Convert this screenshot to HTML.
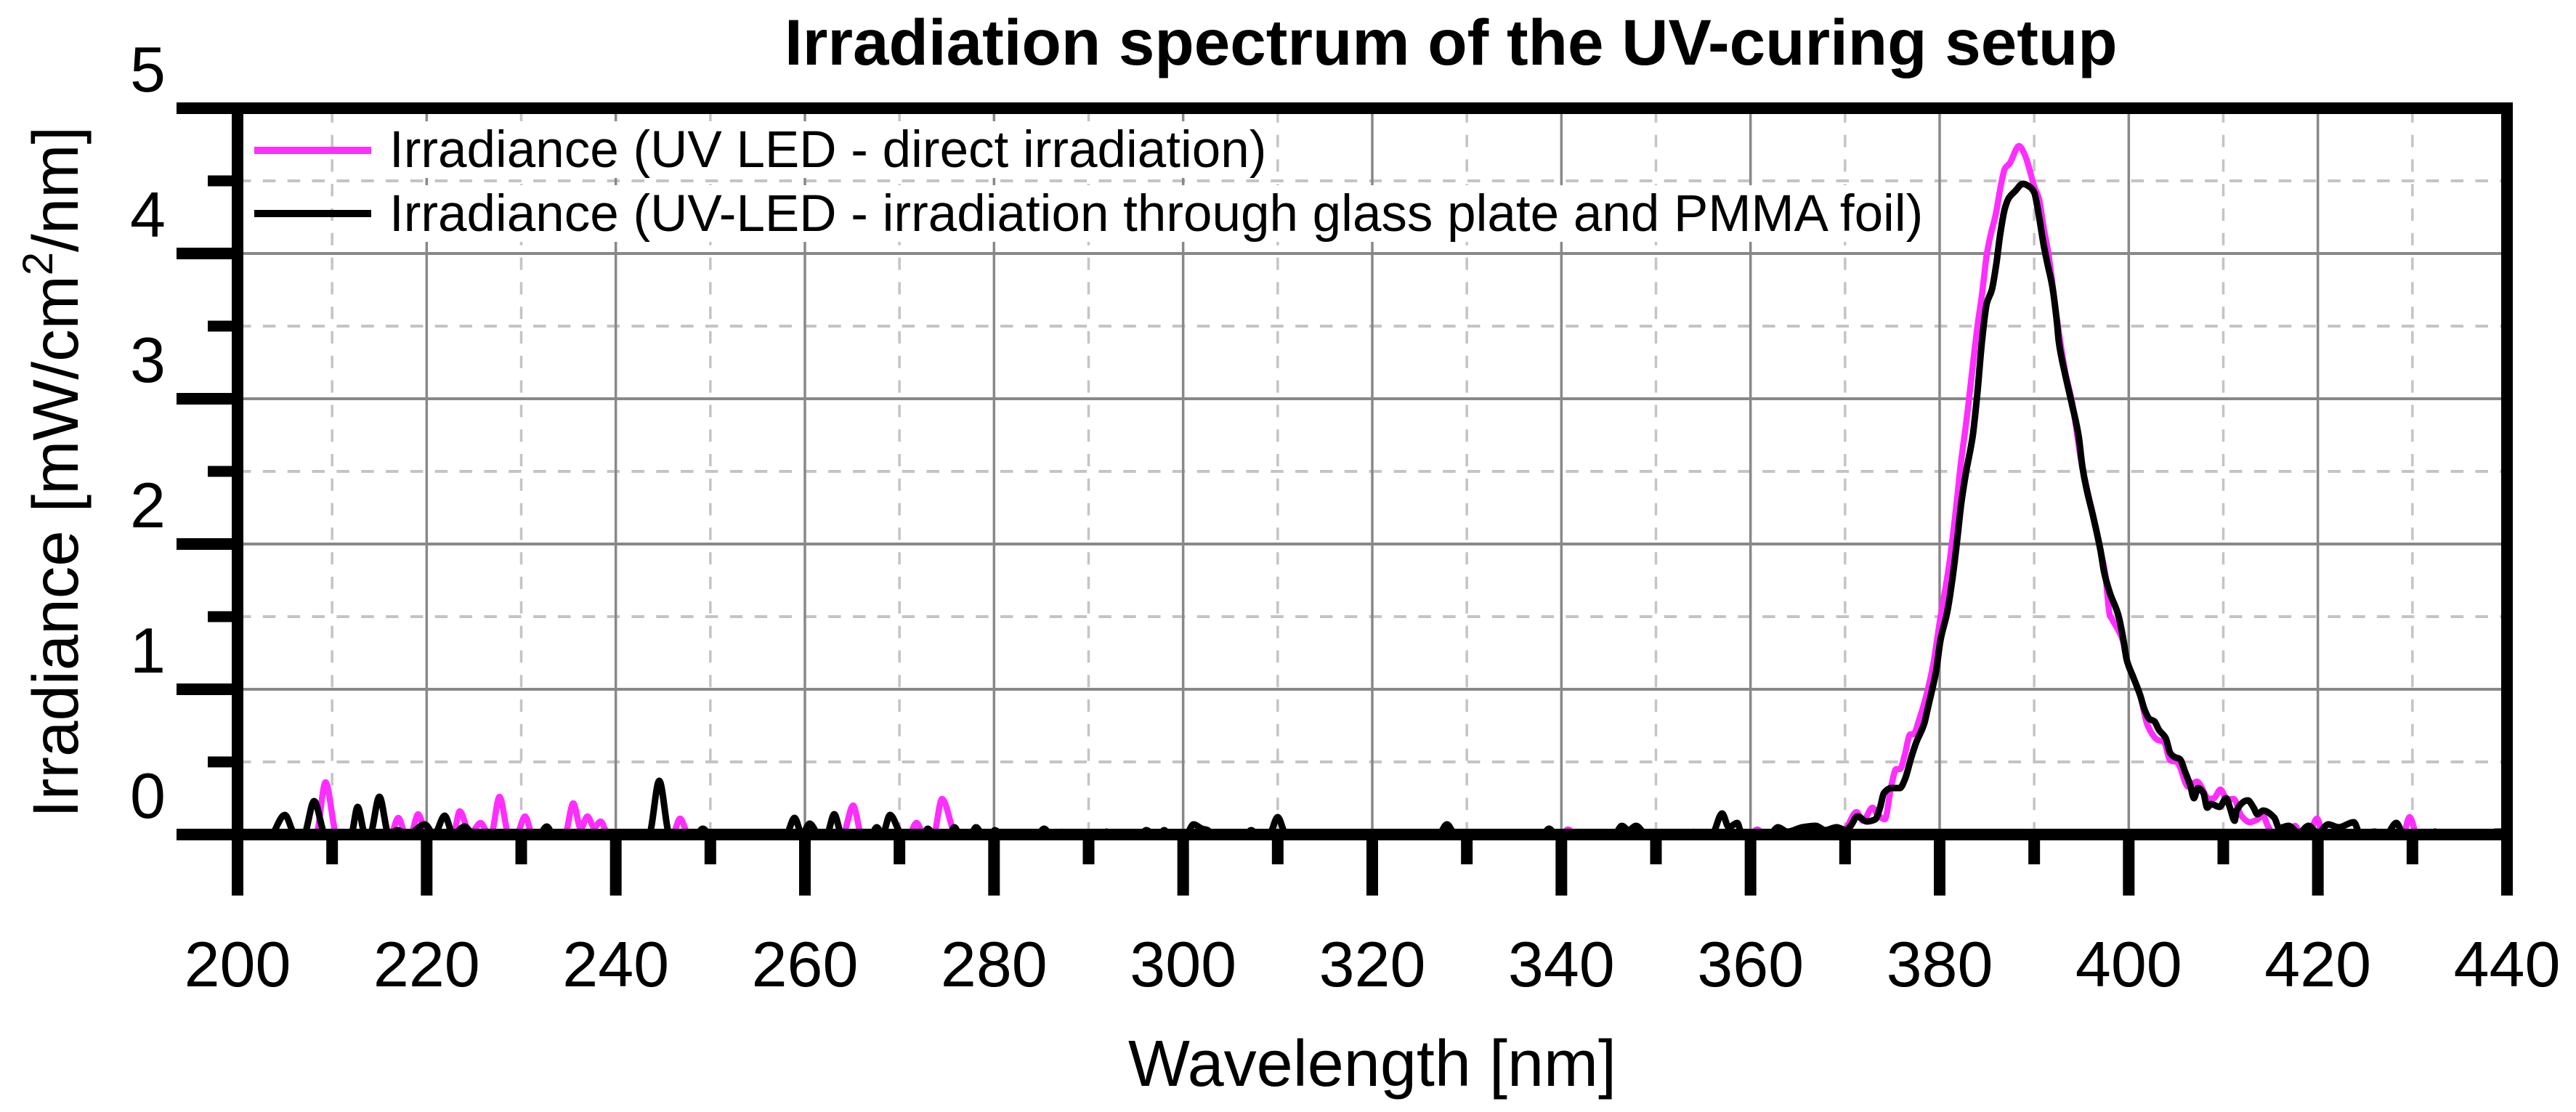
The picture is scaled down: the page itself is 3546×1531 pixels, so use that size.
<!DOCTYPE html>
<html lang="en">
<head>
<meta charset="utf-8">
<title>Irradiation spectrum of the UV-curing setup</title>
<style>
  html, body { margin: 0; padding: 0; background: #fff; }
  svg { display: block; }
  text { font-family: "Liberation Sans", Arial, sans-serif; fill: #000; }
</style>
</head>
<body>
<svg id="chart" xmlns="http://www.w3.org/2000/svg" width="3546" height="1531" viewBox="0 0 3546 1531">
  <rect x="0" y="0" width="3546" height="1531" fill="#fff"/>
  <g id="grid"></g>
  <g id="legend-masks">
    <rect x="533" y="167" width="1204" height="78" fill="#fff"/>
    <rect x="533" y="255" width="2121" height="78" fill="#fff"/>
  </g>
  <g id="series"></g>
  <g id="axes"></g>
  <g id="tick-labels"></g>

  <text x="1080" y="89" font-size="89" font-weight="700">Irradiation spectrum of the UV-curing setup</text>
  <text x="1889" y="1495" font-size="90" text-anchor="middle">Wavelength [nm]</text>
  <text transform="translate(107,1126) rotate(-90)" font-size="89">Irradiance [mW/cm<tspan dy="-35" font-size="58">2</tspan><tspan dy="35">/nm]</tspan></text>

  <g>
    <rect x="350" y="202" width="161" height="10" fill="#ff2dff"/>
    <text x="536" y="230" font-size="71">Irradiance (UV LED - direct irradiation)</text>
    <rect x="350" y="289" width="161" height="10" fill="#000"/>
    <text x="536" y="318" font-size="71">Irradiance (UV-LED - irradiation through glass plate and PMMA foil)</text>
  </g>
</svg>

<script>
// ---- Chart data ----
const xMajorTicks = [200, 220, 240, 260, 280, 300, 320, 340, 360, 380, 400, 420, 440];
const xMinorTicks = [210, 230, 250, 270, 290, 310, 330, 350, 370, 390, 410, 430];
const yMajorTicks = [0, 1, 2, 3, 4, 5];
const yMinorTicks = [0.5, 1.5, 2.5, 3.5, 4.5];

const directWavelengths = [206.3,206.7,207,208.3,209.3,210.5,216.2,217,217.8,218.3,219.1,220,222.8,223.5,224.6,225,225.7,226.6,226.8,227.7,228.7,229.5,230.4,231.2,234.6,235.5,236.3,237,237.7,238.4,239.2,246,246.8,247.7,264,265.1,266,271,271.8,272.6,273.6,274.5,276,286.6,287.1,287.7,340,340.7,341.5,353,354,355,360,360.7,361.5,368.5,369,369.5,370.1,371.2,371.9,372.9,373.4,374.2,374.9,375.4,375.8,376.3,376.9,377.2,377.9,378.6,379.3,380,381,381.8,382.2,382.8,384,384.5,385,385.4,385.9,386.6,386.9,387.4,388.4,389,389.5,390,390.5,391,391.5,392.4,393.3,394,395,396.2,397,397.5,398,398.3,399.4,399.8,400.5,401.2,402,403.1,403.7,404.4,405.1,406.3,407.2,408.5,409,409.7,410.4,411.1,411.9,412.8,413.5,414.2,414.7,415.4,417,417.6,418.2,419,419.9,420.6,429,429.7,430.5,440];
const directIrradiance = [0,0.02,0,0,0.36,0,0,0.115,0,0,0.14,0,0,0.16,0,0.03,0.08,0,0,0.26,0,0,0.125,0,0,0.215,0.04,0.125,0.05,0.09,0,0,0.11,0,0,0.2,0,0,0.08,0,0,0.245,0,0,0.02,0,0,0.035,0,0,0.02,0,0,0.035,0,0,0.03,0,0.04,0.155,0.095,0.185,0.14,0.105,0.34,0.45,0.45,0.545,0.69,0.69,0.805,0.96,1.165,1.46,1.855,2.285,2.53,2.83,3.5,3.73,4,4.13,4.26,4.51,4.585,4.62,4.74,4.68,4.58,4.46,4.38,4.18,4,3.55,3.18,2.98,2.56,2.2,1.96,1.8,1.51,1.475,1.33,1.2,1.08,0.96,0.75,0.65,0.64,0.51,0.5,0.33,0.365,0.245,0.25,0.31,0.24,0.245,0.13,0.085,0.1,0.13,0.06,0,0,0.06,0,0,0.11,0,0,0.12,0,0];

const filteredWavelengths = [203.7,205,206.1,207,208.1,209.3,212,212.7,213.5,214,215,216,216.9,218,219.8,220.8,221.9,222.8,224,225,231.9,232.7,233.4,243.5,244.6,245.7,248.5,249.2,250,258,258.9,259.7,260.5,261.5,262.3,263.1,263.9,267,267.6,268.2,269,270.3,272.5,273,273.6,275.3,275.8,276.4,277.5,278.1,278.8,279.6,280.1,280.8,282,282.4,283,284.6,285.3,286,291.4,291.9,292.4,295.5,296.1,296.9,297.5,298,298.5,300.3,301.1,302,302.6,303,306.6,307.2,307.8,309.1,310,310.9,327,327.9,328.8,338,338.7,339.4,345.6,346.4,347.1,347.9,349,355.9,357,357.7,358.6,359.1,362,362.9,363.9,365.5,366.9,367.9,369.1,370.1,370.6,371.3,372.3,373.2,373.7,374.1,374.9,375.8,376.3,377,377.5,378.4,378.7,379.2,379.6,380.1,380.8,381.3,381.8,382.3,382.8,383.5,384,384.5,385,385.5,386,386.4,386.9,387.3,388,388.8,389.5,390,390.5,391,391.4,391.9,392.4,392.6,393.3,394,394.7,395.1,395.5,396.2,397,397.4,398,398.9,399.4,399.8,400.5,401.2,401.7,402.2,402.7,403.2,403.9,404.4,404.8,405.4,406,406.5,406.9,407.3,407.9,408.3,408.7,409.6,410.3,410.7,411.2,411.4,412.6,413.2,413.6,414.2,415.4,415.9,416.9,418,419,420,421.1,422.2,423.8,424.5,426,427.2,428.3,429,431.5,432.4,433,438,438.8,440];
const filteredIrradiance = [0,0.135,0,0,0.23,0,0,0.19,0,0,0.26,0,0.03,0,0.07,0,0.13,0,0.055,0,0,0.055,0,0,0.37,0,0,0.04,0,0,0.115,0,0.075,0,0,0.14,0,0,0.05,0,0.135,0,0,0.04,0,0,0.05,0,0,0.05,0,0,0.03,0,0,0.01,0,0,0.04,0,0,0.02,0,0,0.03,0,0,0.03,0,0,0.07,0.04,0.03,0,0,0.03,0,0,0.12,0,0,0.07,0,0,0.04,0,0,0.06,0.03,0.06,0,0,0.145,0.05,0.08,0,0,0.05,0.02,0.05,0.06,0.03,0.05,0.03,0.06,0.125,0.09,0.105,0.185,0.285,0.32,0.32,0.375,0.53,0.63,0.77,0.855,0.995,1.115,1.34,1.53,1.735,1.995,2.285,2.495,2.745,3.045,3.41,3.66,3.745,3.93,4.13,4.31,4.38,4.43,4.48,4.46,4.42,4.26,4.06,3.93,3.78,3.53,3.395,3.16,2.96,2.745,2.53,2.39,2.2,1.96,1.805,1.665,1.51,1.355,1.2,1.08,0.96,0.855,0.795,0.78,0.72,0.665,0.56,0.535,0.52,0.425,0.34,0.25,0.32,0.285,0.185,0.21,0.19,0.25,0.185,0.095,0.165,0.235,0.185,0.14,0.165,0.115,0.045,0.06,0.01,0.06,0.01,0.07,0.05,0.085,0,0.02,0,0.08,0.01,0,0.02,0,0,0.02,0.02];

// ---- Axis functions ----
const X0 = 327, X1 = 3451, XMIN = 200, XMAX = 440;
const Y0 = 1149, Y1 = 149, YMIN = 0, YMAX = 5;
function xScale(w) { return X0 + (w - XMIN) * (X1 - X0) / (XMAX - XMIN); }
function yScale(v) { return Y0 + (v - YMIN) * (Y1 - Y0) / (YMAX - YMIN); }

const SVG_NS = 'http://www.w3.org/2000/svg';
function make(tag, parent, attrs) {
  const el = document.createElementNS(SVG_NS, tag);
  for (const k in attrs) el.setAttribute(k, attrs[k]);
  parent.appendChild(el);
  return el;
}

// Monotone cubic path so peaks stay rounded without overshoot
function monotonePath(xs, ys) {
  const n = xs.length;
  const dx = [], m = [], t = new Array(n);
  for (let i = 0; i < n - 1; i++) {
    dx[i] = xs[i + 1] - xs[i];
    m[i] = (ys[i + 1] - ys[i]) / dx[i];
  }
  t[0] = m[0];
  t[n - 1] = m[n - 2];
  for (let i = 1; i < n - 1; i++) {
    if (m[i - 1] * m[i] <= 0) { t[i] = 0; continue; }
    const w1 = 2 * dx[i] + dx[i - 1], w2 = dx[i] + 2 * dx[i - 1];
    t[i] = (w1 + w2) / (w1 / m[i - 1] + w2 / m[i]);
  }
  let d = 'M' + xs[0].toFixed(1) + ' ' + ys[0].toFixed(1);
  for (let i = 0; i < n - 1; i++) {
    const h = dx[i] / 3;
    d += 'C' + (xs[i] + h).toFixed(1) + ' ' + (ys[i] + t[i] * h).toFixed(1) + ' ' +
         (xs[i + 1] - h).toFixed(1) + ' ' + (ys[i + 1] - t[i + 1] * h).toFixed(1) + ' ' +
         xs[i + 1].toFixed(1) + ' ' + ys[i + 1].toFixed(1);
  }
  return d;
}

// ---- Grid ----
const grid = document.getElementById('grid');
xMinorTicks.forEach(function (t) {
  const el = make('line', grid, { x1: xScale(t), x2: xScale(t), y1: yScale(0), y2: yScale(5), stroke: '#c4c4c4', 'stroke-width': 3.5, 'stroke-dasharray': '17 16.8' });
  
  
});
yMinorTicks.forEach(function (t) {
  const el = make('line', grid, { x1: 328, x2: xScale(440), y1: yScale(t), y2: yScale(t), stroke: '#c4c4c4', 'stroke-width': 4, 'stroke-dasharray': '17.5 16.34' });
  
  
});
xMajorTicks.slice(1, -1).forEach(function (t) {
  const el = make('line', grid, { x1: xScale(t), x2: xScale(t), y1: yScale(0), y2: yScale(5), stroke: '#888', 'stroke-width': 3.5 });
  
  
});
yMajorTicks.slice(1, -1).forEach(function (t) {
  const el = make('line', grid, { x1: X0, x2: X1, y1: yScale(t), y2: yScale(t), stroke: '#888', 'stroke-width': 4 });
  
  
});

// ---- Series ----
const seriesLayer = document.getElementById('series');
const directPath = make('path', seriesLayer, {
  d: monotonePath(directWavelengths.map(xScale), directIrradiance.map(yScale)),
  fill: 'none', stroke: '#ff2dff', 'stroke-width': 8.5, 'stroke-linejoin': 'round', 'stroke-linecap': 'round'
});


const filteredPath = make('path', seriesLayer, {
  d: monotonePath(filteredWavelengths.map(xScale), filteredIrradiance.map(yScale)),
  fill: 'none', stroke: '#000', 'stroke-width': 9, 'stroke-linejoin': 'round', 'stroke-linecap': 'round'
});



// ---- Axes and ticks ----
const axes = document.getElementById('axes');
xMajorTicks.forEach(function (t) {
  const el = make('line', axes, { x1: xScale(t), x2: xScale(t), y1: yScale(0), y2: 1233, stroke: '#000', 'stroke-width': 16 });
  
  
});
xMinorTicks.forEach(function (t) {
  const el = make('line', axes, { x1: xScale(t), x2: xScale(t), y1: yScale(0), y2: 1190, stroke: '#000', 'stroke-width': 16 });
  
  
});
yMajorTicks.forEach(function (t) {
  const el = make('line', axes, { x1: 243, x2: X0, y1: yScale(t), y2: yScale(t), stroke: '#000', 'stroke-width': 16 });
  
  
});
yMinorTicks.forEach(function (t) {
  const el = make('line', axes, { x1: 286, x2: X0, y1: yScale(t), y2: yScale(t), stroke: '#000', 'stroke-width': 15 });
  
  
});
const frame = make('rect', axes, { x: X0, y: Y1, width: X1 - X0, height: Y0 - Y1, fill: 'none', stroke: '#000', 'stroke-width': 16 });



// ---- Tick labels ----
const labels = document.getElementById('tick-labels');
xMajorTicks.forEach(function (t) {
  const el = make('text', labels, { x: xScale(t), y: 1358, 'font-size': 88, 'text-anchor': 'middle' });
  el.textContent = String(t);
  
  
});
yMajorTicks.forEach(function (t) {
  const el = make('text', labels, { x: 228, y: yScale(t) - 23, 'font-size': 88, 'text-anchor': 'end' });
  el.textContent = String(t);
  
  
});
</script>
</body>
</html>
